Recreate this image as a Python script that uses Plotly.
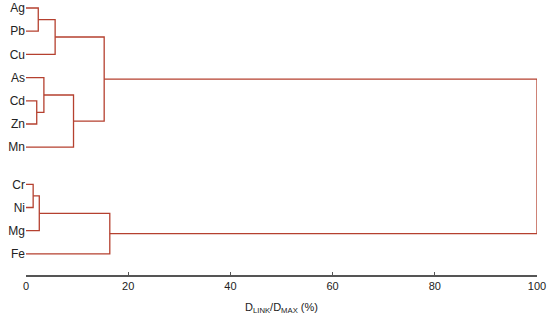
import plotly.graph_objects as go

# leaves (top to bottom) and their vertical positions
leaves = ["Ag", "Pb", "Cu", "As", "Cd", "Zn", "Mn", "Cr", "Ni", "Mg", "Fe"]
leaf_pos = [1, 2, 3, 4, 5, 6, 7, 8.6, 9.6, 10.6, 11.6]

# merges: (cluster a, cluster b, linkage distance %) ; new clusters numbered from 11
merge_a = [0, 4, 7, 13, 3, 11, 15, 16, 14, 18]
merge_b = [1, 5, 8, 9, 12, 2, 6, 17, 10, 19]
merge_d = [2.4, 2.1, 1.4, 2.6, 3.5, 5.7, 9.3, 15.3, 16.4, 100]

x_ticks = [0, 20, 40, 60, 80, 100]

pos = {i: p for i, p in enumerate(leaf_pos)}
hgt = {i: 0.0 for i in range(len(leaves))}
xs, ys = [], []
for k, (a, b, d) in enumerate(zip(merge_a, merge_b, merge_d)):
    c = len(leaves) + k
    xs += [hgt[a], d, d, hgt[b], None]
    ys += [pos[a], pos[a], pos[b], pos[b], None]
    pos[c] = (pos[a] + pos[b]) / 2
    hgt[c] = d

fig = go.Figure()
fig.add_trace(
    go.Scatter(x=xs, y=ys, mode="lines", line=dict(color="#b5402f", width=1.3),
               hoverinfo="skip", showlegend=False, cliponaxis=False)
)
fig.update_layout(
    width=550,
    height=320,
    paper_bgcolor="white",
    plot_bgcolor="white",
    margin=dict(l=26, r=13, t=0, b=45),
    font=dict(family="Liberation Sans, Arial, sans-serif", size=11, color="#222"),
    xaxis=dict(
        range=[0, 100],
        tickvals=x_ticks,
        showgrid=False,
        zeroline=False,
        showline=True,
        linecolor="#555",
        linewidth=1.5,
        ticks="inside",
        ticklen=3,
        tickcolor="#555",
        automargin=False,
        tickfont=dict(size=11),
        title=dict(text="D<sub>LINK</sub>/D<sub>MAX</sub> (%)", standoff=12,
                   font=dict(size=11)),
    ),
    yaxis=dict(
        range=[12.51, 0.655],
        tickvals=leaf_pos,
        ticktext=leaves,
        showgrid=False,
        zeroline=False,
        showline=False,
        ticks="",
        automargin=False,
        tickfont=dict(size=12),
    ),
)
fig.write_html("out.html", config={"displayModeBar": False},
               post_script="document.body.style.margin='0';")
